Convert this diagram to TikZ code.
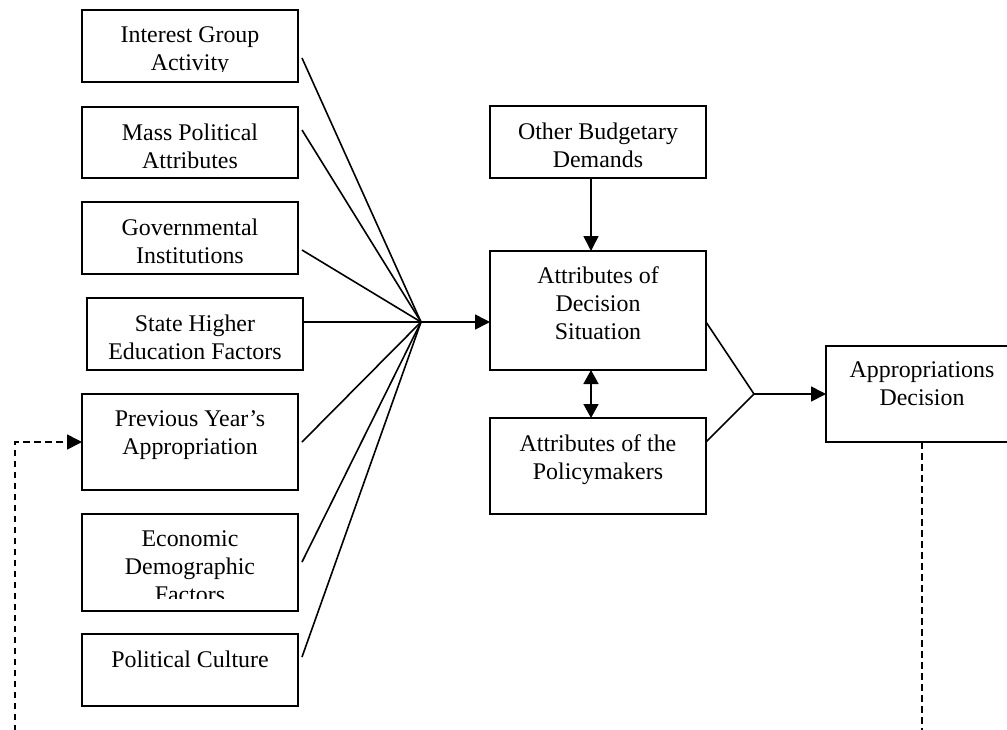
\documentclass[tikz,border=0pt]{standalone}
\usepackage{fontspec}
\setmainfont{Liberation Serif}
\usetikzlibrary{arrows.meta,calc}
\begin{document}
\begin{tikzpicture}[x=1pt,y=-1pt,
  box/.style={draw, line width=1.6pt, rectangle, inner sep=0pt, outer sep=0pt},
  heavybox/.style={box, line width=2.4pt},
  lbl/.style={anchor=north, align=center, inner sep=0pt, font=\fontsize{23.9}{28}\selectfont},
  link/.style={line width=1.6pt},
  tip/.style={-{Triangle[length=15pt,width=15pt]}},
  arr/.style={link, tip},
  dblarr/.style={link, {Triangle[length=14pt,width=15pt]}-{Triangle[length=14pt,width=15pt]}},
  feedback/.style={link, dash pattern=on 6.5pt off 4.5pt, tip}]

% page frame
\clip (0,0) rectangle (1007,729);

% left column of factor boxes
\node[box, minimum width=216pt, minimum height=72pt] (ig) at (190,46) {};
\node[box, minimum width=216pt, minimum height=71pt] (mp) at (190,142.5) {};
\node[box, minimum width=216pt, minimum height=72pt] (gi) at (190,238) {};
\node[box, minimum width=216pt, minimum height=72pt] (sh) at (195,334) {};
\node[box, minimum width=216pt, minimum height=96pt] (py) at (190,442) {};
\node[heavybox, minimum width=216pt, minimum height=97pt] (ed) at (190,562.5) {};
\node[box, minimum width=216pt, minimum height=72pt] (pc) at (190,670) {};

% middle and right boxes
\node[box, minimum width=216pt, minimum height=72pt] (ob) at (598,142) {};
\node[box, minimum width=216pt, minimum height=119pt] (ds) at (598,310.5) {};
\node[box, minimum width=216pt, minimum height=96pt] (pm) at (598,466) {};
\node[box, minimum width=192pt, minimum height=96pt] (ad) at (922,394) {};

% labels (text set from the top of each box, overflow cut at the frame)
\begin{scope}
  \clip (0,0) rectangle (1007,71.5);
  \node[lbl] (igt) at ($(ig.north)+(0,16.7)$) {Interest Group\\Activity};
\end{scope}
\node[lbl] (mpt) at ($(mp.north)+(0,16.7)$) {Mass Political\\Attributes};
\node[lbl] (git) at ($(gi.north)+(0,16.7)$) {Governmental\\Institutions};
\node[lbl] (sht) at ($(sh.north)+(0,16.7)$) {State Higher\\Education Factors};
\node[lbl] (pyt) at ($(py.north)+(0,16.7)$) {Previous Year’s\\Appropriation};
\begin{scope}
  \clip (0,500) rectangle (1007,598.5);
  \node[lbl] (edt) at ($(ed.north)+(0,16.7)$) {Economic\\Demographic\\Factors};
\end{scope}
\node[lbl] (pct) at ($(pc.north)+(0,16.7)$) {Political Culture};
\node[lbl] (obt) at ($(ob.north)+(0,16.7)$) {Other Budgetary\\Demands};
\node[lbl] (dst) at ($(ds.north)+(0,15.7)$) {Attributes of\\Decision\\Situation};
\node[lbl] (pmt) at ($(pm.north)+(0,16.7)$) {Attributes of the\\Policymakers};
\node[lbl] (adt) at ($(ad.north)+(0,15.7)$) {Appropriations\\Decision};

% converging factor lines
\coordinate (hub) at (421,322);
\draw[link] ($(ig.north east)+(4,48)$) -- (hub);
\draw[link] ($(mp.north east)+(4,23)$) -- (hub);
\draw[link] ($(gi.north east)+(4,48)$) -- (hub);
\draw[link] (sh.east |- hub) -- (hub);
\draw[link] ($(py.north east)+(4,48)$) -- (hub);
\draw[link] ($(ed.north east)+(4,48)$) -- (hub);
\draw[link] ($(pc.north east)+(4,23)$) -- (hub);
\draw[arr] (hub) -- (hub -| ds.west);

% budgetary demands and decision situation
\draw[arr] ([xshift=-7pt]ob.south) -- ([xshift=-7pt]ob.south |- ds.north);
\draw[dblarr] ([xshift=-7pt]ds.south) -- ([xshift=-7pt]ds.south |- pm.north);

% joining into the appropriations decision
\coordinate (hub2) at (754,394);
\draw[link] (ds.east |- hub) -- (hub2) -- ($(pm.north east)+(0,24)$);
\draw[arr] (hub2) -- (ad.west);

% feedback loop to the next year's appropriation
\draw[feedback] (ad.south) -- (922,760) -- (15,760) -- (15,442) -- (py.west);
\end{tikzpicture}
\end{document}
